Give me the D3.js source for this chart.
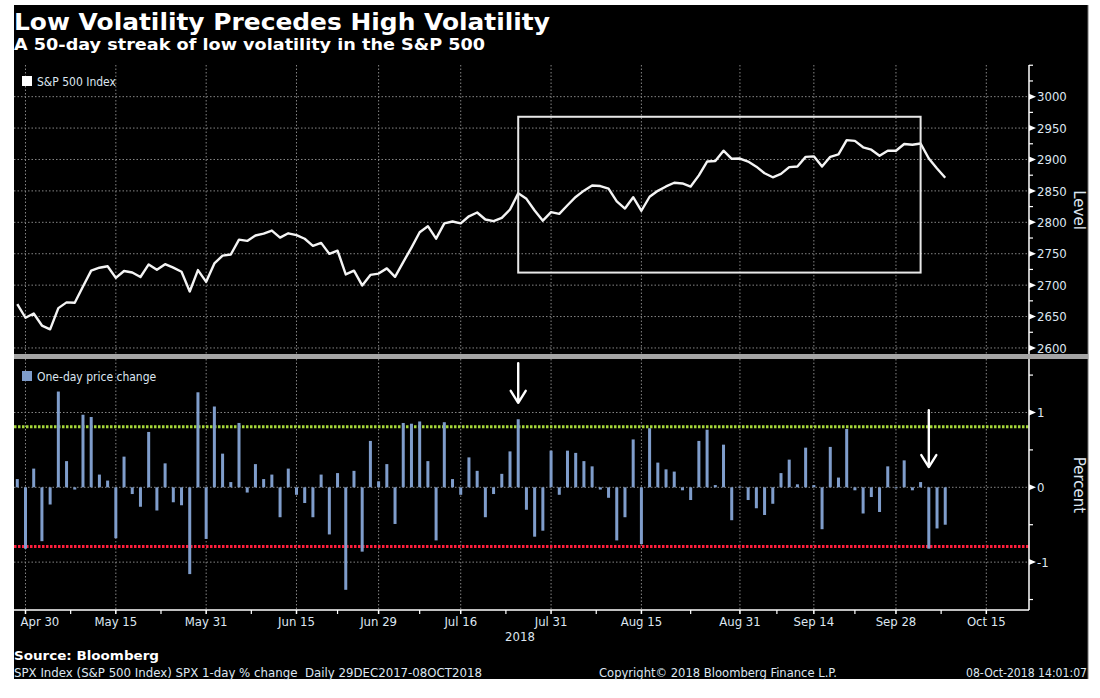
<!DOCTYPE html>
<html>
<head>
<meta charset="utf-8">
<script src="https://cdn.jsdelivr.net/npm/d3@7"></script>
<style>
  body { margin: 0; background: #ffffff; }
  svg { display: block; }
  text { font-family: "DejaVu Sans Condensed", "DejaVu Sans", sans-serif; }
</style>
</head>
<body>
<div id="chart"></div>
<script>
// trading days shown (MM-DD, 2018)
let dates = [
  '04-27','04-30','05-01','05-02','05-03','05-04',
  '05-07','05-08','05-09','05-10','05-11',
  '05-14','05-15','05-16','05-17','05-18',
  '05-21','05-22','05-23','05-24','05-25',
  '05-29','05-30','05-31',
  '06-01',
  '06-04','06-05','06-06','06-07','06-08',
  '06-11','06-12','06-13','06-14','06-15',
  '06-18','06-19','06-20','06-21','06-22',
  '06-25','06-26','06-27','06-28','06-29',
  '07-02','07-03','07-05','07-06',
  '07-09','07-10','07-11','07-12','07-13',
  '07-16','07-17','07-18','07-19','07-20',
  '07-23','07-24','07-25','07-26','07-27',
  '07-30','07-31',
  '08-01','08-02','08-03',
  '08-06','08-07','08-08','08-09','08-10',
  '08-13','08-14','08-15','08-16','08-17',
  '08-20','08-21','08-22','08-23','08-24',
  '08-27','08-28','08-29','08-30','08-31',
  '09-04','09-05','09-06','09-07',
  '09-10','09-11','09-12','09-13','09-14',
  '09-17','09-18','09-19','09-20','09-21',
  '09-24','09-25','09-26','09-27','09-28',
  '10-01','10-02','10-03','10-04','10-05',
  '10-08'
];

// empty trading days to the right of the data
let futureDays = ['10-09','10-10','10-11','10-12','10-15','10-16','10-17','10-18','10-19'];

// S&P 500 index level
let closes = [
  2669.9, 2648.1, 2654.8, 2635.7, 2629.7, 2663.4,
  2672.6, 2671.9, 2697.8, 2723.1, 2727.7,
  2730.1, 2711.5, 2722.5, 2720.1, 2713.0,
  2733.0, 2724.4, 2733.3, 2727.8, 2721.3,
  2689.9, 2724.0, 2705.3,
  2734.6,
  2746.9, 2748.8, 2772.4, 2770.4, 2779.0,
  2782.0, 2786.9, 2775.6, 2782.5, 2779.7,
  2773.8, 2762.6, 2767.3, 2749.8, 2754.9,
  2717.1, 2723.1, 2699.6, 2716.3, 2718.4,
  2726.7, 2713.2, 2736.6, 2759.8,
  2784.2, 2793.8, 2774.0, 2798.3, 2801.3,
  2798.4, 2809.6, 2815.6, 2804.5, 2801.8,
  2807.0, 2820.4, 2846.1, 2837.4, 2818.8,
  2802.6, 2816.3,
  2813.4, 2827.2, 2840.4,
  2850.4, 2858.5, 2857.7, 2853.6, 2833.3,
  2821.9, 2840.0, 2818.4, 2840.7, 2850.1,
  2857.1, 2863.0, 2861.8, 2857.0, 2874.7,
  2896.7, 2897.5, 2914.0, 2901.1, 2901.5,
  2896.7, 2888.6, 2878.1, 2871.7,
  2877.1, 2887.9, 2888.9, 2904.2, 2905.0,
  2888.8, 2904.3, 2908.0, 2930.8, 2929.7,
  2919.4, 2915.6, 2906.0, 2914.0, 2914.0,
  2924.6, 2923.4, 2925.5, 2901.6, 2885.6,
  2871.0
];

// one-day price change, %
let pctChange = [
  0.11, -0.82, 0.25, -0.72, -0.23, 1.28,
  0.35, -0.03, 0.97, 0.94, 0.17,
  0.09, -0.68, 0.41, -0.09, -0.26,
  0.74, -0.31, 0.32, -0.20, -0.24,
  -1.16, 1.27, -0.69,
  1.08,
  0.45, 0.07, 0.86, -0.07, 0.31,
  0.11, 0.17, -0.40, 0.25, -0.10,
  -0.21, -0.40, 0.17, -0.63, 0.19,
  -1.37, 0.22, -0.86, 0.62, 0.08,
  0.31, -0.49, 0.86, 0.85,
  0.88, 0.35, -0.71, 0.87, 0.11,
  -0.10, 0.40, 0.22, -0.40, -0.09,
  0.18, 0.48, 0.91, -0.30, -0.66,
  -0.58, 0.49,
  -0.10, 0.49, 0.46,
  0.35, 0.28, -0.03, -0.14, -0.71,
  -0.40, 0.64, -0.76, 0.79, 0.33,
  0.24, 0.21, -0.04, -0.17, 0.62,
  0.77, 0.03, 0.57, -0.44, 0.01,
  -0.17, -0.28, -0.37, -0.22,
  0.19, 0.37, 0.04, 0.53, 0.03,
  -0.56, 0.54, 0.13, 0.78, -0.04,
  -0.35, -0.13, -0.33, 0.28, -0.01,
  0.36, -0.04, 0.07, -0.82, -0.55,
  -0.50
];

// x axis ticks
let majorTicks = ['04-30','05-15','05-31','06-15','06-29','07-16','07-31','08-15','08-31','09-14','09-28','10-15'];
let majorLabels = ['Apr 30','May 15','May 31','Jun 15','Jun 29','Jul 16','Jul 31','Aug 15','Aug 31','Sep 14','Sep 28','Oct 15'];

// y axis ticks
let levelTicks = [2600, 2650, 2700, 2750, 2800, 2850, 2900, 2950, 3000];
let levelMinor = [2625, 2675, 2725, 2775, 2825, 2875, 2925, 2975, 3025, 3050];
let pctTicks = [-1, 0, 1];
let pctMinor = [-1.5, -0.5, 0.5, 1.5];

// reference lines (%)
let upperBand = 0.81;
let lowerBand = -0.79;

// the 50-day streak box (dates and levels)
let boxDates = ['07-25', '10-03'];
let boxLevels = [2720, 2968];

// arrows in the lower panel: date, start %, end %
let arrowDates = ['07-25', '10-04'];
let arrowFrom = [1.66, 1.03];
let arrowTo = [1.13, 0.27];

let svgWidth = 1100;
let svgHeight = 698;

let frame = { left: 14, right: 1088, top: 5, bottom: 679 };
let plotRight = 1029;
let topPanel = { top: 65, bottom: 354 };
let botPanel = { top: 359, bottom: 610 };

let labelColor = '#dde6f0';
let gridColor = '#858585';

let allDays = dates.concat(futureDays);
let dayIndex = {};
allDays.forEach((d, i) => { dayIndex[d] = i; });

let svg = d3.select('#chart')
  .append('svg')
  .attr('width', svgWidth)
  .attr('height', svgHeight);

// black background
svg.append('rect')
  .attr('x', frame.left)
  .attr('y', frame.top)
  .attr('width', frame.right - frame.left)
  .attr('height', frame.bottom - frame.top)
  .attr('fill', '#000');

svg.append('line')
  .attr('x1', frame.right).attr('x2', frame.right)
  .attr('y1', frame.top).attr('y2', frame.bottom)
  .attr('stroke', '#777')
  .attr('stroke-width', 1);

// scales
let x = d3.scaleLinear()
  .domain([-0.4, allDays.length + 0.2])
  .range([frame.left, plotRight]);

let yLevel = d3.scaleLinear()
  .domain([2590.4, 3050.4])
  .range([topPanel.bottom, topPanel.top]);

let yPct = d3.scaleLinear()
  .domain([-1.64, 1.715])
  .range([botPanel.bottom, botPanel.top]);

let xd = d => x(dayIndex[d]);

// titles
svg.append('text')
  .attr('x', 14)
  .attr('y', 30)
  .attr('fill', '#fff')
  .attr('font-weight', 'bold')
  .attr('font-size', 23)
  .attr('textLength', 536)
  .attr('lengthAdjust', 'spacingAndGlyphs')
  .style('font-family', '"DejaVu Sans", sans-serif')
  .text('Low Volatility Precedes High Volatility');

svg.append('text')
  .attr('x', 14)
  .attr('y', 50)
  .attr('fill', '#fff')
  .attr('font-weight', 'bold')
  .attr('font-size', 16.5)
  .attr('textLength', 471)
  .attr('lengthAdjust', 'spacingAndGlyphs')
  .style('font-family', '"DejaVu Sans", sans-serif')
  .text('A 50-day streak of low volatility in the S&P 500');

// grid lines
function gridFor(panel, yScale, ticks) {
  let g = svg.append('g');
  g.selectAll('.hgrid')
    .data(ticks)
    .enter()
    .append('line')
    .attr('x1', frame.left)
    .attr('x2', plotRight)
    .attr('y1', d => yScale(d))
    .attr('y2', d => yScale(d))
    .attr('stroke', gridColor)
    .attr('stroke-width', 1)
    .attr('stroke-dasharray', '1.5,2');

  g.selectAll('.vgrid')
    .data(majorTicks)
    .enter()
    .append('line')
    .attr('x1', d => xd(d))
    .attr('x2', d => xd(d))
    .attr('y1', panel.top)
    .attr('y2', panel.bottom)
    .attr('stroke', gridColor)
    .attr('stroke-width', 1)
    .attr('stroke-dasharray', '1.5,2');
}

gridFor(topPanel, yLevel, levelTicks);
gridFor(botPanel, yPct, pctTicks);

// top panel: index line
let line = d3.line()
  .x((d, i) => x(i))
  .y(d => yLevel(d));

svg.append('path')
  .datum(closes)
  .attr('d', line)
  .attr('fill', 'none')
  .attr('stroke', '#f4f4f4')
  .attr('stroke-width', 2.4)
  .attr('stroke-linejoin', 'round');

// streak box
svg.append('rect')
  .attr('x', xd(boxDates[0]))
  .attr('y', yLevel(boxLevels[1]))
  .attr('width', xd(boxDates[1]) - xd(boxDates[0]))
  .attr('height', yLevel(boxLevels[0]) - yLevel(boxLevels[1]))
  .attr('fill', 'none')
  .attr('stroke', '#e8e8e8')
  .attr('stroke-width', 2);

// top legend
svg.append('rect')
  .attr('x', 22).attr('y', 76)
  .attr('width', 10).attr('height', 10)
  .attr('fill', '#fff');

svg.append('text')
  .attr('x', 37).attr('y', 86)
  .attr('fill', labelColor)
  .attr('font-size', 12)
  .text('S&P 500 Index');

// separator band
svg.append('rect')
  .attr('x', frame.left)
  .attr('y', topPanel.bottom)
  .attr('width', frame.right - frame.left)
  .attr('height', botPanel.top - topPanel.bottom)
  .attr('fill', '#a4a4a4');

// bottom panel: threshold lines
svg.selectAll('.band')
  .data([[upperBand, '#a5d63b'], [lowerBand, '#ff1e3c']])
  .enter()
  .append('line')
  .attr('x1', frame.left)
  .attr('x2', plotRight)
  .attr('y1', d => yPct(d[0]))
  .attr('y2', d => yPct(d[0]))
  .attr('stroke', d => d[1])
  .attr('stroke-width', 3)
  .attr('stroke-dasharray', '2.5,1.5');

// bars
svg.selectAll('.bar')
  .data(pctChange)
  .enter()
  .append('rect')
  .attr('x', (d, i) => x(i) - 1.5)
  .attr('width', 3)
  .attr('y', d => yPct(Math.max(0, d)))
  .attr('height', d => Math.max(1, Math.abs(yPct(d) - yPct(0))))
  .attr('fill', '#7f9dcb');

// arrows
arrowDates.forEach(function(d, i) {
  let ax = xd(d);
  let y0 = yPct(arrowFrom[i]);
  let y1 = yPct(arrowTo[i]);
  svg.append('path')
    .attr('d', `M${ax},${y0} L${ax},${y1} M${ax - 7.5},${y1 - 12} L${ax},${y1} L${ax + 7.5},${y1 - 12}`)
    .attr('fill', 'none')
    .attr('stroke', '#fff')
    .attr('stroke-width', 2.4)
    .attr('stroke-linecap', 'round')
    .attr('stroke-linejoin', 'round');
});

// bottom legend
svg.append('rect')
  .attr('x', 22).attr('y', 371)
  .attr('width', 10).attr('height', 10)
  .attr('fill', '#7f9dcb');

svg.append('text')
  .attr('x', 37).attr('y', 381)
  .attr('fill', labelColor)
  .attr('font-size', 12)
  .text('One-day price change');

// right axes
function rightAxis(panel, yScale, ticks, minor, fmt) {
  let g = svg.append('g');
  g.append('line')
    .attr('x1', plotRight).attr('x2', plotRight)
    .attr('y1', panel.top).attr('y2', panel.bottom)
    .attr('stroke', '#fff')
    .attr('stroke-width', 1.5);

  g.selectAll('.minor')
    .data(minor)
    .enter()
    .append('line')
    .attr('x1', plotRight).attr('x2', plotRight + 4)
    .attr('y1', d => yScale(d)).attr('y2', d => yScale(d))
    .attr('stroke', '#fff')
    .attr('stroke-width', 1.2);

  g.selectAll('.major')
    .data(ticks)
    .enter()
    .append('path')
    .attr('d', d => `M${plotRight},${yScale(d) - 3} L${plotRight + 7},${yScale(d)} L${plotRight},${yScale(d) + 3} Z`)
    .attr('fill', '#fff');

  g.selectAll('.lbl')
    .data(ticks)
    .enter()
    .append('text')
    .attr('x', plotRight + 8)
    .attr('y', d => yScale(d))
    .attr('dy', '0.36em')
    .attr('fill', labelColor)
    .attr('font-size', 13)
    .text(fmt);
}

rightAxis(topPanel, yLevel, levelTicks, levelMinor, d => d);
rightAxis(botPanel, yPct, pctTicks, pctMinor, d => d < 0 ? '-' + Math.abs(d) : d);

svg.append('text')
  .attr('transform', `translate(1074, 210) rotate(90)`)
  .attr('text-anchor', 'middle')
  .attr('fill', labelColor)
  .attr('font-size', 15)
  .style('font-family', '"DejaVu Sans", sans-serif')
  .text('Level');

svg.append('text')
  .attr('transform', `translate(1074, 485) rotate(90)`)
  .attr('text-anchor', 'middle')
  .attr('fill', labelColor)
  .attr('font-size', 15)
  .style('font-family', '"DejaVu Sans", sans-serif')
  .text('Percent');

// x axis
let xAxis = svg.append('g');
xAxis.append('line')
  .attr('x1', frame.left).attr('x2', plotRight)
  .attr('y1', botPanel.bottom).attr('y2', botPanel.bottom)
  .attr('stroke', '#fff')
  .attr('stroke-width', 1.5);

let minorX = [];
for (let i = 0; i < majorTicks.length - 1; i++) {
  minorX.push((dayIndex[majorTicks[i]] + dayIndex[majorTicks[i + 1]]) / 2);
}

xAxis.selectAll('.xminor')
  .data(minorX)
  .enter()
  .append('line')
  .attr('x1', d => x(d)).attr('x2', d => x(d))
  .attr('y1', botPanel.bottom).attr('y2', botPanel.bottom + 4)
  .attr('stroke', '#fff')
  .attr('stroke-width', 1.2);

xAxis.selectAll('.xmajor')
  .data(majorTicks)
  .enter()
  .append('line')
  .attr('x1', d => xd(d)).attr('x2', d => xd(d))
  .attr('y1', botPanel.bottom).attr('y2', botPanel.bottom + 4)
  .attr('stroke', '#fff')
  .attr('stroke-width', 1.5);

xAxis.selectAll('.xlbl')
  .data(majorTicks)
  .enter()
  .append('text')
  .attr('x', (d, i) => i === 0 ? xd(d) - 5 : xd(d))
  .attr('y', 626)
  .attr('text-anchor', (d, i) => i === 0 ? 'start' : 'middle')
  .attr('fill', labelColor)
  .attr('font-size', 13)
  .text((d, i) => majorLabels[i]);

svg.append('text')
  .attr('x', 520)
  .attr('y', 641)
  .attr('text-anchor', 'middle')
  .attr('fill', labelColor)
  .attr('font-size', 13)
  .text('2018');

// footer
svg.append('text')
  .attr('x', 14).attr('y', 660)
  .attr('fill', '#fff')
  .attr('font-weight', 'bold')
  .attr('font-size', 13)
  .attr('textLength', 145)
  .attr('lengthAdjust', 'spacingAndGlyphs')
  .style('font-family', '"DejaVu Sans", sans-serif')
  .text('Source: Bloomberg');

svg.append('text')
  .attr('x', 14).attr('y', 677)
  .attr('fill', labelColor)
  .attr('font-size', 12)
  .attr('textLength', 468)
  .attr('lengthAdjust', 'spacingAndGlyphs')
  .style('white-space', 'pre')
  .text('SPX Index (S&P 500 Index) SPX 1-day % change  Daily 29DEC2017-08OCT2018');

svg.append('text')
  .attr('x', 599).attr('y', 677)
  .attr('fill', labelColor)
  .attr('font-size', 12)
  .attr('textLength', 238)
  .attr('lengthAdjust', 'spacingAndGlyphs')
  .text('Copyright© 2018 Bloomberg Finance L.P.');

svg.append('text')
  .attr('x', 1087).attr('y', 677)
  .attr('text-anchor', 'end')
  .attr('fill', labelColor)
  .attr('font-size', 12)
  .attr('textLength', 121)
  .attr('lengthAdjust', 'spacingAndGlyphs')
  .text('08-Oct-2018 14:01:07');
</script>
</body>
</html>
